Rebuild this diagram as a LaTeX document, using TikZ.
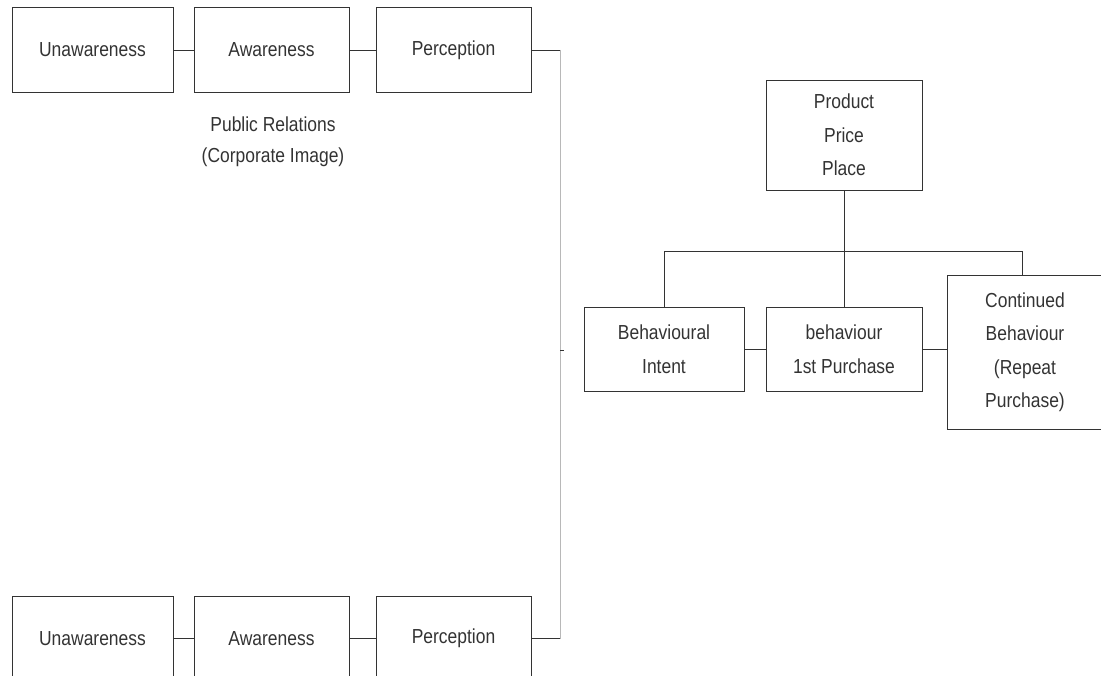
\documentclass[tikz,border=0pt]{standalone}
\usepackage{fontspec}
\setmainfont{Liberation Sans}[FakeStretch=0.86]
\definecolor{ink}{HTML}{333333}
\definecolor{lite}{HTML}{B8B8B8}
\begin{document}
\begin{tikzpicture}[x=1pt,y=-1pt,
  box/.style={draw=ink, line width=0.9pt, text=ink, align=center, inner sep=0pt,
    font=\fontsize{20.3}{33.5}\selectfont, minimum height=84.5pt},
  wire/.style={draw=ink, line width=0.9pt},
  litewire/.style={draw=lite, line width=0.9pt},
  lbl/.style={text=ink, align=center, inner sep=0pt, font=\fontsize{20.3}{31}\selectfont}]
\useasboundingbox (0,0) rectangle (1101,676);
\clip (0,0) rectangle (1101,676);
% top row
\node[box, minimum width=161pt] (u1) at (92.5,50) {Unawareness};
\node[box, minimum width=155pt] (a1) at (271.5,50) {Awareness};
\node[box, minimum width=155pt] (p1) at (453.5,50) {Perception};
\node[lbl] (pr) at (273,142) {Public Relations\\(Corporate Image)};
% bottom row
\node[box, minimum width=161pt] (u2) at (92.5,638.5) {Unawareness};
\node[box, minimum width=155pt] (a2) at (271.5,638.5) {Awareness};
\node[box, minimum width=155pt] (p2) at (453.5,638.5) {Perception};
% right side
\node[box, minimum width=156pt, minimum height=110pt] (ppp) at (844,135) {Product\\Price\\Place};
\node[box, minimum width=160pt, minimum height=84pt] (bi) at (664,349) {Behavioural\\Intent};
\node[box, minimum width=156pt, minimum height=84pt] (bp) at (844,349) {behaviour\\1st Purchase};
\node[box, minimum width=156pt, minimum height=154pt] (cb) at (1025,352) {Continued\\Behaviour\\(Repeat\\Purchase)};
% coordinates
\coordinate (c1) at (560,50);
\coordinate (c2) at (560,638.5);
\coordinate (tk1) at (560,350);
\coordinate (tk2) at (563.5,350);
\coordinate (bl) at (664,251);
\coordinate (br) at (1022,251);
% connectors
\draw[wire] (u1.east) -- (a1.west);
\draw[wire] (a1.east) -- (p1.west);
\draw[wire] (u2.east) -- (a2.west);
\draw[wire] (a2.east) -- (p2.west);
\draw[wire] (p1.east) -- (c1);
\draw[litewire] (c1) -- (c2);
\draw[wire] (c2) -- (p2.east);
\draw[wire, line width=0.6pt] (tk1) -- (tk2);
\draw[wire] (ppp.south) -- (bp.north);
\draw[wire] (bi.north) -- (bl) -- (br) -- (br |- cb.north);
\draw[wire] (bi.east) -- (bp.west);
\draw[wire] (bp.east) -- (cb.west |- bp.east);
\end{tikzpicture}
\end{document}
